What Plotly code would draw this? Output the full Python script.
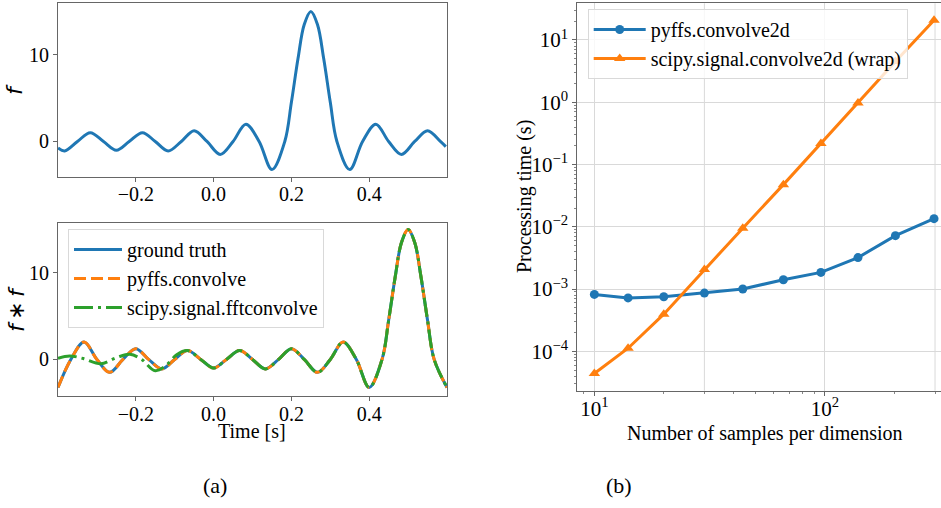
import plotly.graph_objects as go

# ---------------- data ----------------
# (a) top: f(t)
f_t = [-0.4, -0.383, -0.35, -0.317, -0.283, -0.25, -0.217, -0.183, -0.15, -0.117,
       -0.083, -0.05, -0.017, 0.017, 0.05, 0.083, 0.117, 0.15, 0.183, 0.2, 0.217,
       0.233, 0.25, 0.267, 0.283, 0.3, 0.317, 0.35, 0.383, 0.417, 0.45, 0.483,
       0.517, 0.55, 0.583, 0.597]
f_v = [-0.75, -1.09, 0.0, 1.02, 0.0, -1.0, 0.0, 1.02, 0.0, -1.09,
       0.0, 1.24, 0.0, -1.49, 0.0, 2.0, 0.0, -3.24, 0.0, 4.52, 9.57,
       13.5, 15.0, 13.5, 9.57, 4.52, 0.0, -3.24, 0.0, 2.0, 0.0, -1.49,
       0.0, 1.24, 0.0, -0.6]

# (a) bottom: f*f ground truth / pyffs.convolve
g_t = [-0.4, -0.367, -0.333, -0.3, -0.267, -0.233, -0.2, -0.167, -0.133, -0.1,
       -0.067, -0.033, 0.0, 0.033, 0.067, 0.1, 0.133, 0.167, 0.2, 0.233, 0.267,
       0.3, 0.333, 0.367, 0.4, 0.433, 0.45, 0.467, 0.483, 0.5, 0.517, 0.533,
       0.55, 0.567, 0.6]
g_v = [-3.24, 0.0, 2.0, 0.0, -1.49, 0.0, 1.24, 0.0, -1.09, 0.0,
       1.02, 0.0, -1.0, 0.0, 1.02, 0.0, -1.09, 0.0, 1.24, 0.0, -1.49,
       0.0, 2.0, 0.0, -3.24, 0.0, 4.52, 9.57, 13.5, 15.0, 13.5, 9.57,
       4.52, 0.0, -3.24]
p_v = list(g_v)

# scipy.signal.fftconvolve (differs on the left side)
s_t = [-0.4, -0.37, -0.335, -0.29, -0.25, -0.215, -0.185, -0.15, -0.12, -0.095,
       -0.067, -0.033, 0.0, 0.033, 0.067, 0.1, 0.133, 0.167, 0.2, 0.233, 0.267,
       0.3, 0.333, 0.367, 0.4, 0.433, 0.45, 0.467, 0.483, 0.5, 0.517, 0.533,
       0.55, 0.567, 0.6]
s_v = [0.12, 0.4, 0.1, -0.5, 0.2, 0.6, 0.0, -1.3, -0.6, 0.55,
       1.02, 0.0, -1.0, 0.0, 1.02, 0.0, -1.09, 0.0, 1.24, 0.0, -1.49,
       0.0, 2.0, 0.0, -3.24, 0.0, 4.52, 9.57, 13.5, 15.0, 13.5, 9.57,
       4.52, 0.0, -3.24]

# (b) processing time
n_samples = [10, 14, 20, 30, 44, 66, 96, 139, 202, 297]
t_pyffs = [8.2e-4, 7.2e-4, 7.5e-4, 8.6e-4, 1.0e-3, 1.41e-3, 1.85e-3, 3.2e-3, 7.2e-3, 1.35e-2]
t_scipy = [4.4e-5, 1.12e-4, 3.95e-4, 2.05e-3, 9.5e-3, 4.75e-2, 0.218, 0.975, 4.5, 20.7]

left_xticks = [-0.2, 0.0, 0.2, 0.4]
left_yticks = [0, 10]
right_xticks = [10, 100]
right_xticktext = ["10<sup>1</sup>", "10<sup>2</sup>"]
right_xgrid_extra = [30, 300]
right_yticks = [1e-4, 1e-3, 1e-2, 1e-1, 1e0, 1e1]
right_yticktext = ["10<sup>−4</sup>", "10<sup>−3</sup>", "10<sup>−2</sup>",
                   "10<sup>−1</sup>", "10<sup>0</sup>", "10<sup>1</sup>"]

# ---------------- figure ----------------
W, H = 941, 508
BLUE, ORANGE, GREEN = "#1f77b4", "#ff7f0e", "#2ca02c"
SERIF = "Liberation Serif"
GRID = "#d9d9d9"

fig = go.Figure()
fig.add_trace(go.Scatter(x=f_t, y=f_v, mode="lines", line=dict(color=BLUE, width=3, shape="spline", smoothing=1.0),
                         xaxis="x", yaxis="y", showlegend=False))
fig.add_trace(go.Scatter(x=g_t, y=g_v, mode="lines", name="ground truth",
                         line=dict(color=BLUE, width=3, shape="spline", smoothing=1.0),
                         xaxis="x2", yaxis="y2", legend="legend"))
fig.add_trace(go.Scatter(x=g_t, y=p_v, mode="lines", name="pyffs.convolve",
                         line=dict(color=ORANGE, width=3, dash="12px,5px", shape="spline", smoothing=1.0),
                         xaxis="x2", yaxis="y2", legend="legend"))
fig.add_trace(go.Scatter(x=s_t, y=s_v, mode="lines", name="scipy.signal.fftconvolve",
                         line=dict(color=GREEN, width=3, dash="19px,5px,3px,5px", shape="spline", smoothing=1.0),
                         xaxis="x2", yaxis="y2", legend="legend"))
fig.add_trace(go.Scatter(x=n_samples, y=t_pyffs, mode="lines+markers", name="pyffs.convolve2d",
                         line=dict(color=BLUE, width=3), marker=dict(symbol="circle", size=9, color=BLUE),
                         xaxis="x3", yaxis="y3", legend="legend2"))
fig.add_trace(go.Scatter(x=n_samples, y=t_scipy, mode="lines+markers", name="scipy.signal.convolve2d (wrap)",
                         line=dict(color=ORANGE, width=3), marker=dict(symbol="triangle-up", size=10, color=ORANGE),
                         xaxis="x3", yaxis="y3", legend="legend2"))

def px_x(a, b):
    return [a / W, b / W]

def px_y(top, bottom):
    return [1 - bottom / H, 1 - top / H]

axis_common = dict(showline=True, mirror=True, linecolor="#666", linewidth=1, ticks="outside",
                   ticklen=4, tickcolor="#666", showgrid=False, zeroline=False,
                   tickfont=dict(family=SERIF, size=20, color="black"))

fig.update_layout(
    width=W, height=H, margin=dict(l=0, r=0, t=0, b=0),
    paper_bgcolor="white", plot_bgcolor="white",
    xaxis=dict(domain=px_x(58, 447), range=[-0.4, 0.6], tickvals=left_xticks, tickformat=".1f",
               anchor="y", ticklabelstandoff=-5, **axis_common),
    yaxis=dict(domain=px_y(3.3, 177), range=[-4.1, 15.95], tickvals=left_yticks, anchor="x", **axis_common),
    xaxis2=dict(domain=px_x(58, 447), range=[-0.4, 0.6], tickvals=left_xticks, tickformat=".1f",
                anchor="y2", ticklabelstandoff=-4, **axis_common),
    yaxis2=dict(domain=px_y(222.7, 396), range=[-4.22, 15.78], tickvals=left_yticks, anchor="x2", **axis_common),
    xaxis3=dict(domain=px_x(577.3, 941), type="log", range=[0.926, 2.503], anchor="y3",
                tickmode="array", tickvals=right_xticks, ticktext=right_xticktext, ticklabelstandoff=-5,
                showline=True, mirror=True, linecolor="#666", linewidth=1, ticks="outside", ticklen=4,
                tickcolor="#666", showgrid=True, gridcolor=GRID, gridwidth=1, zeroline=False,
                tickfont=dict(family=SERIF, size=21, color="black"),
                minor=dict(tickvals=[9, 20, 30, 40, 50, 60, 70, 80, 90, 200, 300, 400], ticks="outside",
                           ticklen=2, tickcolor="#888", showgrid=False)),
    yaxis3=dict(domain=px_y(3.3, 390.7), type="log", range=[-4.633, 1.589], anchor="x3",
                tickmode="array", tickvals=right_yticks, ticktext=right_yticktext,
                showline=True, mirror=False, linecolor="#666", linewidth=1, ticks="outside", ticklen=4,
                tickcolor="#666", showgrid=True, gridcolor=GRID, gridwidth=1, zeroline=False,
                tickfont=dict(family=SERIF, size=21, color="black"),
                minor=dict(tickvals=[k * 10.0 ** e for e in range(-5, 2) for k in range(2, 10)],
                           ticks="outside", ticklen=2, tickcolor="#888", showgrid=False)),
    legend=dict(x=68 / W, y=1 - 229 / H, xanchor="left", yanchor="top",
                bgcolor="rgba(255,255,255,0.8)", bordercolor="#d9d9d9", borderwidth=1,
                font=dict(family=SERIF, size=20, color="black"), itemwidth=48,
                tracegroupgap=0),
    legend2=dict(x=587.7 / W, y=1 - 9 / H, xanchor="left", yanchor="top",
                 bgcolor="rgba(255,255,255,0.8)", bordercolor="#d9d9d9", borderwidth=1,
                 font=dict(family=SERIF, size=20, color="black"), itemwidth=52,
                 tracegroupgap=0),
)

# extra vertical grid lines of panel (b) (at 30 and 300)
for gx in right_xgrid_extra:
    fig.add_shape(type="line", xref="x3", yref="y3 domain", x0=gx, x1=gx, y0=0, y1=1,
                  line=dict(color=GRID, width=1), layer="below")

annots = [
    dict(text="<i>f</i>", x=14 / W, y=1 - 90 / H, textangle=-90, font=dict(family="DejaVu Sans", size=22)),
    dict(text="<i>f</i>\u2009∗\u2009<i>f</i>", x=16 / W, y=1 - 309 / H, textangle=-90,
         font=dict(family="DejaVu Sans", size=22)),
    dict(text="Time [s]", x=252 / W, y=1 - 431 / H, font=dict(family=SERIF, size=20)),
    dict(text="Number of samples per dimension", x=765 / W, y=1 - 433 / H, font=dict(family=SERIF, size=20)),
    dict(text="Processing time (s)", x=524 / W, y=1 - 197 / H, textangle=-90, font=dict(family=SERIF, size=20)),
    dict(text="(a)", x=215 / W, y=1 - 485 / H, font=dict(family=SERIF, size=22)),
    dict(text="(b)", x=619 / W, y=1 - 485 / H, font=dict(family=SERIF, size=22)),
]
for a in annots:
    a.update(xref="paper", yref="paper", showarrow=False, xanchor="center", yanchor="middle")
    a["font"]["color"] = "black"
fig.update_layout(annotations=annots)

fig.write_html("out.html")
